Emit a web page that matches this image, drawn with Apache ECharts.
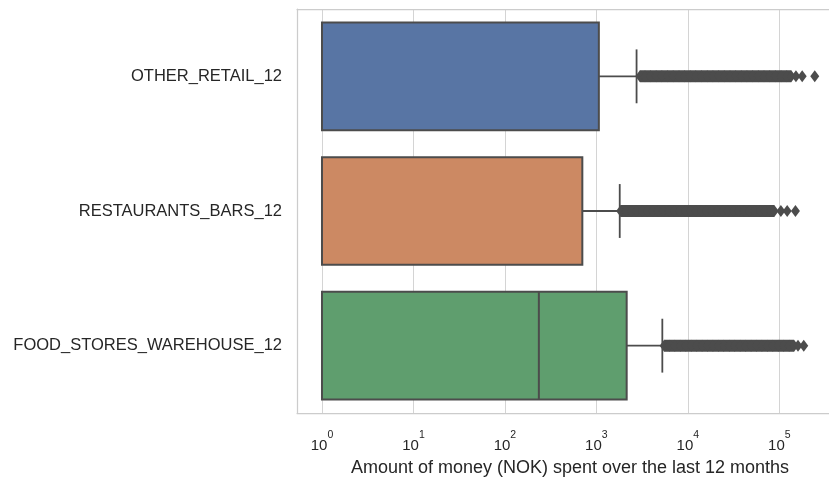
<!DOCTYPE html>
<html>
<head>
<meta charset="utf-8">
<script src="https://cdn.jsdelivr.net/npm/echarts@6/dist/echarts.min.js"></script>
<style>
  html, body { margin: 0; padding: 0; background: #ffffff; }
  #chart { width: 829px; height: 477px; }
</style>
</head>
<body>
<div id="chart"></div>
<script>
// Spending categories, top to bottom
const categories = ['OTHER_RETAIL_12', 'RESTAURANTS_BARS_12', 'FOOD_STORES_WAREHOUSE_12'];

// Box statistics per category (NOK): lower whisker, Q1, median, Q3, upper whisker
const whiskerLow = [1, 1, 1];
const q1Values = [1, 1, 1];
const medianValues = [1, 1, 235];
const q3Values = [1064, 702, 2144];
const whiskerHigh = [2750, 1800, 5260];

// Outlying observations beyond the upper whisker: the tightly packed run, then the isolated ones
const denseOtherRetail = [2990, 3400, 3900, 4500, 5200, 6000, 6900, 8000, 9200, 10600, 12200, 14100,
  16300, 18800, 21700, 25000, 28900, 33300, 38400, 44300, 51100, 59000, 68000, 78500, 90600, 104500,
  120600, 135000];
const sparseOtherRetail = [152000, 178000, 244000];
const denseRestaurants = [1840, 2100, 2400, 2750, 3150, 3600, 4100, 4700, 5400, 6200, 7100, 8100,
  9300, 10600, 12200, 13900, 15900, 18200, 20900, 23900, 27300, 31300, 35800, 41000, 46900, 53700,
  61400, 70300, 80400, 88000];
const sparseRestaurants = [104000, 122000, 150000];
const denseFoodStores = [5500, 6300, 7200, 8300, 9500, 10900, 12500, 14300, 16400, 18800, 21600,
  24700, 28400, 32500, 37300, 42800, 49100, 56300, 64600, 74000, 84900, 97400, 111700, 128000, 145000];
const sparseFoodStores = [160000, 185000];

const boxColors = ['#5875a4', '#cc8963', '#5f9e6e'];
const lineColor = '#4c4c4c';
const textColor = '#262626';
const spineColor = '#cccccc';

const boxData = categories.map((c, i) => [i, q1Values[i], medianValues[i], q3Values[i], whiskerHigh[i], whiskerLow[i]]);
const denseSets = [denseOtherRetail, denseRestaurants, denseFoodStores];
const sparseSets = [sparseOtherRetail, sparseRestaurants, sparseFoodStores];

const outlierData = [];
denseSets.forEach((set, i) => set.forEach(v => outlierData.push([v, i])));
sparseSets.forEach((set, i) => set.forEach(v => outlierData.push([v, i])));

// The packed runs overlap into a solid band; one line per category traces them
const denseRunSeries = denseSets.map((set, i) => ({
  type: 'line',
  data: set.map(v => [v, i]),
  showSymbol: false,
  symbol: 'none',
  lineStyle: { color: lineColor, width: 12, cap: 'butt' },
  z: 3,
  silent: true
}));

const xMin = 0.533;
const xMax = 497000;

const chart = echarts.init(document.getElementById('chart'), null, { renderer: 'canvas' });

chart.setOption({
  animation: false,
  backgroundColor: '#ffffff',
  grid: {
    left: 297, top: 9, width: 546, height: 404,
    outerBoundsMode: 'none',
    containLabel: false,
    show: false
  },
  xAxis: [
    {
      type: 'log',
      logBase: 10,
      min: xMin,
      max: xMax,
      name: 'Amount of money (NOK) spent over the last 12 months',
      nameLocation: 'middle',
      nameGap: 46,
      nameTextStyle: { fontFamily: 'Liberation Sans', fontSize: 18, color: textColor },
      axisLine: { show: true, lineStyle: { color: spineColor, width: 1.25 } },
      axisTick: { show: false },
      splitLine: { show: true, lineStyle: { color: '#d4d4d4', width: 1 } },
      axisLabel: {
        showMinLabel: false,
        showMaxLabel: false,
        margin: 17,
        fontFamily: 'Liberation Sans',
        color: textColor,
        formatter: function (value) {
          const e = Math.log10(value);
          const r = Math.round(e);
          if (Math.abs(e - r) > 1e-6) return '';
          return '{b|10}{s|' + r + '}';
        },
        rich: {
          b: { fontFamily: 'Liberation Sans', fontSize: 15, color: textColor, lineHeight: 32, verticalAlign: 'middle' },
          s: { fontFamily: 'Liberation Sans', fontSize: 10.5, color: textColor, lineHeight: 12, verticalAlign: 'top' }
        }
      }
    },
    {
      // top spine
      type: 'log',
      logBase: 10,
      min: xMin,
      max: xMax,
      position: 'top',
      axisLine: { show: true, lineStyle: { color: spineColor, width: 1.25 } },
      axisTick: { show: false },
      axisLabel: { show: false },
      splitLine: { show: false }
    }
  ],
  yAxis: {
    type: 'category',
    data: categories,
    inverse: true,
    axisLine: { show: true, lineStyle: { color: spineColor, width: 1.25 } },
    axisTick: { show: false },
    splitLine: { show: false },
    axisLabel: { margin: 15, fontFamily: 'Liberation Sans', fontSize: 16.5, color: textColor }
  },
  series: [
    {
      type: 'custom',
      coordinateSystem: 'cartesian2d',
      encode: { y: 0, x: [1, 2, 3, 4, 5] },
      data: boxData,
      z: 2,
      renderItem: function (params, api) {
        const idx = api.value(0);
        const q1 = api.value(1), med = api.value(2), q3 = api.value(3), hi = api.value(4);
        const band = params.coordSys.height / categories.length;
        const boxH = band * 0.8;
        const pQ1 = api.coord([q1, idx]);
        const pMed = api.coord([med, idx]);
        const pQ3 = api.coord([q3, idx]);
        const pHi = api.coord([hi, idx]);
        const cy = pQ1[1];
        const stroke = { stroke: lineColor, lineWidth: 2 };
        return {
          type: 'group',
          children: [
            {
              type: 'line',
              shape: { x1: pQ3[0], y1: cy, x2: pHi[0], y2: cy },
              style: { stroke: lineColor, lineWidth: 1.8 }
            },
            {
              type: 'line',
              shape: { x1: pHi[0], y1: cy - boxH / 4, x2: pHi[0], y2: cy + boxH / 4 },
              style: { stroke: lineColor, lineWidth: 1.8 }
            },
            {
              type: 'rect',
              shape: { x: pQ1[0], y: cy - boxH / 2, width: pQ3[0] - pQ1[0], height: boxH },
              style: Object.assign({ fill: boxColors[idx] }, stroke)
            },
            {
              type: 'line',
              shape: { x1: pMed[0], y1: cy - boxH / 2, x2: pMed[0], y2: cy + boxH / 2 },
              style: stroke
            }
          ]
        };
      }
    },
    ...denseRunSeries,
    {
      type: 'scatter',
      data: outlierData,
      symbol: 'diamond',
      symbolSize: [9, 12],
      itemStyle: { color: lineColor, opacity: 1 },
      z: 4
    }
  ]
});
</script>
</body>
</html>
